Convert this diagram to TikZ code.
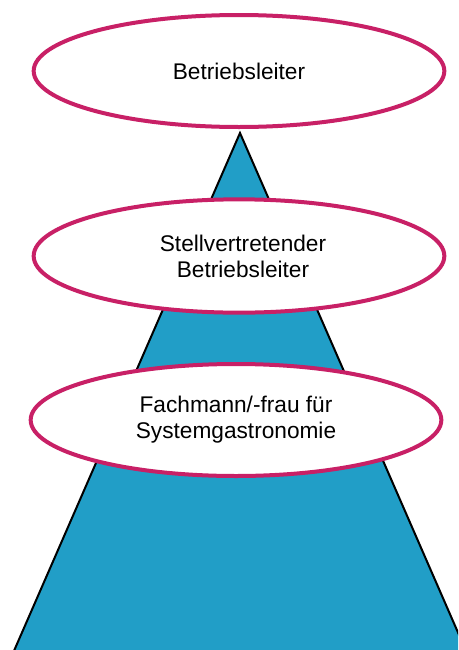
\documentclass[tikz,border=0pt]{standalone}
\usepackage{fontspec}
\setmainfont{Liberation Sans}
\usetikzlibrary{shapes.geometric}
\definecolor{pyramidblue}{RGB}{33,158,199}
\definecolor{ringred}{RGB}{200,32,102}
\begin{document}
\begin{tikzpicture}[x=0.75pt,y=-0.75pt,
  level/.style={ellipse, draw=ringred, line width=3pt, fill=white,
    minimum width=308pt, align=center, inner sep=0pt,
    font=\fontsize{17}{19.5}\selectfont}]
\useasboundingbox (0,0) rectangle (458,650);
% pyramid behind the levels
\begin{scope}
  \clip (0,0) rectangle (458,650);
  \coordinate (apex) at (240,133);
  \coordinate (bl) at (10,660);
  \coordinate (br) at (470,660);
  \filldraw[fill=pyramidblue, draw=black, line width=1.5pt] (bl) -- (apex) -- (br);
\end{scope}
% hierarchy levels
\node[level, minimum height=84pt] (top) at (239,71) {Betriebsleiter};
\node[level, minimum height=85pt] (mid) at (239,256) {\hspace*{6pt}Stellvertretender\\\hspace*{6pt}Betriebsleiter};
\node[level, minimum height=84pt] (low) at (236,420) {Fachmann/-frau für\\Systemgastronomie};
\end{tikzpicture}
\end{document}
